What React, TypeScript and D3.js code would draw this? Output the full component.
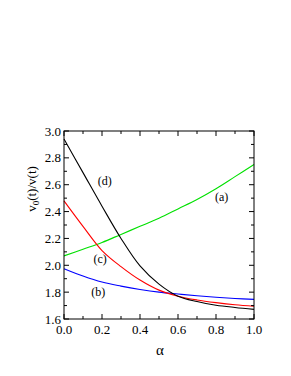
import React, { useEffect, useRef } from 'react';
import * as d3 from 'd3';

// alpha grid
const alphas = [0, 0.1, 0.2, 0.3, 0.4, 0.5, 0.6, 0.7, 0.8, 0.9, 1.0];

// curve (a) green
const seriesA = [2.07, 2.12, 2.17, 2.23, 2.29, 2.35, 2.42, 2.49, 2.57, 2.66, 2.75];
// curve (b) blue
const seriesB = [1.975, 1.92, 1.875, 1.845, 1.82, 1.80, 1.786, 1.773, 1.762, 1.753, 1.746];
// curve (c) red
const seriesC = [2.48, 2.29, 2.11, 1.99, 1.89, 1.815, 1.77, 1.742, 1.722, 1.706, 1.695];
// curve (d) black
const seriesD = [2.94, 2.69, 2.44, 2.20, 1.995, 1.86, 1.77, 1.73, 1.703, 1.686, 1.672];

const xTicks = [0, 0.2, 0.4, 0.6, 0.8, 1.0];
const yTicks = [1.6, 1.8, 2.0, 2.2, 2.4, 2.6, 2.8, 3.0];

const curveLabels = [
  { text: '(a)', x: 0.83, y: 2.48 },
  { text: '(b)', x: 0.18, y: 1.775 },
  { text: '(c)', x: 0.19, y: 2.015 },
  { text: '(d)', x: 0.215, y: 2.60 },
];

function App() {
  const ref = useRef<SVGSVGElement>(null);

  useEffect(() => {
    const svg = d3.select(ref.current);
    svg.selectAll('*').remove();

    const left = 64, right = 254, top = 131, bottom = 319;
    const x = d3.scaleLinear().domain([0, 1]).range([left, right]);
    const y = d3.scaleLinear().domain([1.6, 3.0]).range([bottom, top]);
    const font = 'Liberation Serif';

    const line = d3.line<number>()
      .x((_, i) => x(alphas[i]))
      .y((d) => y(d))
      .curve(d3.curveCatmullRom.alpha(0.5));

    const series = [
      { data: seriesA, color: '#00e000' },
      { data: seriesB, color: '#0000ff' },
      { data: seriesC, color: '#ff0000' },
      { data: seriesD, color: '#000000' },
    ];

    svg.append('g')
      .selectAll('path')
      .data(series)
      .enter()
      .append('path')
      .attr('d', (d) => line(d.data))
      .attr('fill', 'none')
      .attr('stroke', (d) => d.color)
      .attr('stroke-width', 1.1);

    // frame
    svg.append('rect')
      .attr('x', left).attr('y', top)
      .attr('width', right - left).attr('height', bottom - top)
      .attr('fill', 'none').attr('stroke', '#000').attr('stroke-width', 1);

    // ticks, inward, mirrored
    const minorX = d3.range(0, 1.0001, 0.1);
    const minorY = d3.range(1.6, 3.0001, 0.1);
    const g = svg.append('g').attr('stroke', '#000').attr('stroke-width', 1);
    minorX.forEach((v, i) => {
      const len = i % 2 === 0 ? 5 : 3;
      g.append('line').attr('x1', x(v)).attr('x2', x(v)).attr('y1', bottom).attr('y2', bottom - len);
      g.append('line').attr('x1', x(v)).attr('x2', x(v)).attr('y1', top).attr('y2', top + len);
    });
    minorY.forEach((v, i) => {
      const len = i % 2 === 0 ? 5 : 3;
      g.append('line').attr('y1', y(v)).attr('y2', y(v)).attr('x1', left).attr('x2', left + len);
      g.append('line').attr('y1', y(v)).attr('y2', y(v)).attr('x1', right).attr('x2', right - len);
    });

    const labels = svg.append('g').attr('font-family', font);

    labels.append('g')
      .selectAll('text')
      .data(xTicks)
      .enter()
      .append('text')
      .attr('x', (d) => x(d))
      .attr('y', bottom + 15)
      .attr('text-anchor', 'middle')
      .attr('font-size', 13)
      .text((d) => d.toFixed(1));

    labels.append('g')
      .selectAll('text')
      .data(yTicks)
      .enter()
      .append('text')
      .attr('x', left - 3)
      .attr('y', (d) => y(d) + 4.5)
      .attr('text-anchor', 'end')
      .attr('font-size', 13)
      .text((d) => d.toFixed(1));

    labels.append('text')
      .attr('x', 160).attr('y', 355)
      .attr('text-anchor', 'middle')
      .attr('font-size', 15)
      .text('α');

    const yl = labels.append('text')
      .attr('transform', 'translate(36,189) rotate(-90)')
      .attr('text-anchor', 'middle')
      .attr('font-size', 13);
    yl.append('tspan').text('v');
    yl.append('tspan').attr('font-size', 9).attr('dy', 3).text('0');
    yl.append('tspan').attr('dy', -3).text('(t)/v(t)');

    labels.append('g')
      .selectAll('text')
      .data(curveLabels)
      .enter()
      .append('text')
      .attr('x', (d) => x(d.x))
      .attr('y', (d) => y(d.y))
      .attr('text-anchor', 'middle')
      .attr('font-size', 12)
      .text((d) => d.text);
  }, []);

  return (
    <svg ref={ref} width={291} height={376} style={{ position: 'absolute', left: 0, top: 0 }} />
  );
}

export default App;
